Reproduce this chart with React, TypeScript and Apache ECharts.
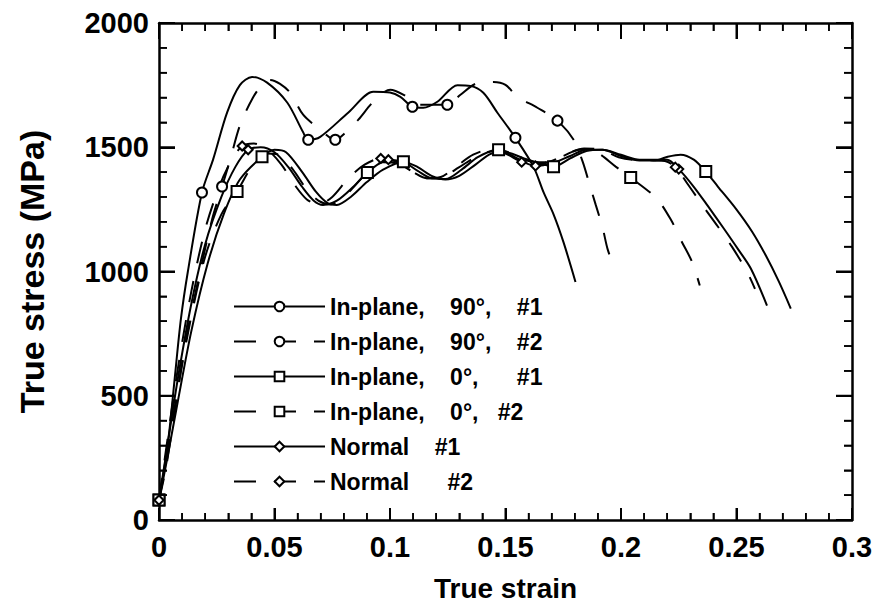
import { useEffect, useRef } from 'react';
import * as echarts from 'echarts';

// Axis tick values (major / minor)
const xMajorTicks = [0, 0.05, 0.1, 0.15, 0.2, 0.25, 0.3];
const xMinorTicks = [0.01, 0.02, 0.03, 0.04, 0.06, 0.07, 0.08, 0.09, 0.11, 0.12, 0.13, 0.14, 0.16, 0.17, 0.18, 0.19, 0.21, 0.22, 0.23, 0.24, 0.26, 0.27, 0.28, 0.29];
const yMajorTicks = [0, 500, 1000, 1500, 2000];
const yMinorTicks = [100, 200, 300, 400, 600, 700, 800, 900, 1100, 1200, 1300, 1400, 1600, 1700, 1800, 1900];

// In-plane 90°, #1 (solid, circles)
const strainA = [0, 0.002, 0.0045, 0.0068, 0.0095, 0.0125, 0.0186, 0.0234, 0.0295, 0.035, 0.0403, 0.0468, 0.0555, 0.0624, 0.0646, 0.0698, 0.082, 0.0928, 0.1, 0.1045, 0.1097, 0.1144, 0.1205, 0.1292, 0.1348, 0.1404, 0.1465, 0.1543, 0.1621, 0.1665, 0.1708, 0.1751, 0.1803];
const stressA = [80, 190, 360, 570, 810, 1000, 1318, 1450, 1640, 1750, 1783, 1760, 1680, 1560, 1530, 1542, 1640, 1723, 1720, 1703, 1663, 1659, 1683, 1750, 1747, 1719, 1639, 1538, 1422, 1318, 1230, 1118, 958];
const marksA = [0, 0.0186, 0.0646, 0.1097, 0.1543];

// In-plane 90°, #2 (dashed, circles)
const strainB = [0, 0.003, 0.007, 0.0117, 0.0178, 0.023, 0.0273, 0.0308, 0.0351, 0.0407, 0.0446, 0.0481, 0.0524, 0.0568, 0.0624, 0.0698, 0.0763, 0.0806, 0.0863, 0.0928, 0.1001, 0.1075, 0.1131, 0.1248, 0.1305, 0.137, 0.1448, 0.15, 0.1552, 0.1638, 0.1725, 0.1795, 0.1834, 0.1864, 0.189, 0.192, 0.1942, 0.1972];
const stressB = [80, 208, 449, 729, 1000, 1210, 1342, 1450, 1590, 1700, 1751, 1771, 1755, 1719, 1631, 1571, 1530, 1558, 1611, 1683, 1731, 1703, 1671, 1671, 1711, 1755, 1763, 1751, 1703, 1659, 1607, 1530, 1442, 1350, 1270, 1178, 1090, 1014];
const marksB = [0, 0.0273, 0.0763, 0.1248, 0.1725];

// In-plane 0°, #1 (solid, squares)
const strainC = [0, 0.003, 0.008, 0.014, 0.021, 0.028, 0.035, 0.0446, 0.05, 0.055, 0.062, 0.068, 0.073, 0.077, 0.083, 0.09, 0.097, 0.1058, 0.112, 0.118, 0.124, 0.13, 0.137, 0.144, 0.15, 0.158, 0.165, 0.1708, 0.178, 0.185, 0.192, 0.2, 0.208, 0.216, 0.2202, 0.2258, 0.2315, 0.2367, 0.242, 0.2497, 0.2567, 0.2627, 0.2683, 0.2735];
const stressC = [80, 220, 470, 760, 1030, 1230, 1370, 1462, 1490, 1480, 1400, 1320, 1275, 1268, 1300, 1360, 1410, 1442, 1420, 1385, 1370, 1385, 1430, 1475, 1480, 1455, 1435, 1422, 1455, 1485, 1490, 1470, 1450, 1450, 1462, 1470, 1450, 1402, 1341, 1253, 1161, 1064, 960, 851];
const marksC = [0, 0.0446, 0.1058, 0.1708, 0.2367];

// In-plane 0°, #2 (dashed, squares)
const strainD = [0, 0.003, 0.008, 0.014, 0.02, 0.027, 0.0338, 0.04, 0.046, 0.052, 0.058, 0.064, 0.069, 0.074, 0.08, 0.0902, 0.097, 0.103, 0.11, 0.116, 0.122, 0.13, 0.138, 0.147, 0.154, 0.16, 0.167, 0.175, 0.182, 0.189, 0.1977, 0.2042, 0.2155, 0.2218, 0.2263, 0.2307, 0.2341];
const stressD = [80, 240, 520, 820, 1060, 1230, 1322, 1420, 1475, 1470, 1410, 1330, 1285, 1270, 1300, 1398, 1440, 1435, 1400, 1375, 1378, 1420, 1465, 1490, 1470, 1445, 1440, 1465, 1490, 1482, 1422, 1378, 1293, 1205, 1120, 1040, 944];
const marksD = [0, 0.0338, 0.0902, 0.147, 0.2042];

// Normal #1 (solid, diamonds)
const strainE = [0, 0.003, 0.008, 0.014, 0.02, 0.027, 0.033, 0.0386, 0.044, 0.05, 0.056, 0.062, 0.067, 0.071, 0.077, 0.084, 0.091, 0.0993, 0.106, 0.112, 0.118, 0.124, 0.131, 0.138, 0.145, 0.152, 0.158, 0.163, 0.17, 0.178, 0.185, 0.192, 0.2, 0.208, 0.215, 0.22, 0.225, 0.2315, 0.2375, 0.2445, 0.2505, 0.2562, 0.2632];
const stressE = [80, 260, 560, 870, 1110, 1300, 1420, 1490, 1500, 1480, 1420, 1340, 1285, 1268, 1285, 1340, 1405, 1450, 1440, 1405, 1375, 1372, 1410, 1460, 1485, 1470, 1440, 1425, 1435, 1465, 1490, 1490, 1465, 1447, 1447, 1450, 1412, 1341, 1265, 1173, 1092, 1012, 863];
const marksE = [0, 0.0386, 0.0993, 0.163, 0.225];

// Normal #2 (dashed, diamonds)
const strainF = [0, 0.003, 0.008, 0.014, 0.02, 0.026, 0.031, 0.036, 0.041, 0.047, 0.053, 0.059, 0.064, 0.069, 0.075, 0.082, 0.089, 0.096, 0.103, 0.11, 0.116, 0.122, 0.129, 0.136, 0.143, 0.15, 0.157, 0.163, 0.17, 0.177, 0.184, 0.191, 0.199, 0.207, 0.214, 0.219, 0.2235, 0.229, 0.235, 0.242, 0.248, 0.2545, 0.258];
const stressF = [80, 280, 600, 920, 1170, 1340, 1440, 1505, 1515, 1490, 1430, 1345, 1290, 1270, 1300, 1375, 1430, 1455, 1440, 1400, 1375, 1380, 1425, 1470, 1490, 1475, 1440, 1428, 1445, 1475, 1495, 1492, 1460, 1448, 1447, 1445, 1420, 1350, 1270, 1180, 1100, 1000, 930];
const marksF = [0, 0.036, 0.096, 0.157, 0.2235];

const names = [
  'In-plane,\u00a0\u00a0\u00a0 90°,\u00a0\u00a0\u00a0 #1',
  'In-plane,\u00a0\u00a0\u00a0 90°,\u00a0\u00a0\u00a0 #2',
  'In-plane,\u00a0\u00a0\u00a0 0°,\u00a0\u00a0\u00a0\u00a0\u00a0 #1',
  'In-plane,\u00a0\u00a0\u00a0 0°,\u00a0\u00a0 #2',
  'Normal\u00a0\u00a0\u00a0 #1',
  'Normal\u00a0\u00a0\u00a0\u00a0\u00a0 #2',
];

const FONT = 'Liberation Sans, Arial, Helvetica, sans-serif';
const X_MIN = 0;
const X_MAX = 0.3;
const Y_MIN = 0;
const Y_MAX = 2000;

function build(strain: number[], stress: number[], marks: number[]) {
  return strain.map((x, i) =>
    marks.includes(x) ? { value: [x, stress[i]] } : { value: [x, stress[i]], symbol: 'none' }
  );
}

function lineSeries(name: string, strain: number[], stress: number[], marks: number[], symbol: string, size: number, dashed: boolean) {
  return {
    type: 'line',
    name,
    data: build(strain, stress, marks),
    symbol,
    symbolSize: size,
    smooth: 0.3,
    lineStyle: { color: '#000', width: 2, type: dashed ? [22, 18] : 'solid' },
    itemStyle: { color: '#000', borderColor: '#000', borderWidth: 1.5 },
  };
}

function axisLine() {
  return { show: true, onZero: false, lineStyle: { color: '#000', width: 2.5 } };
}

function axisTicks(major: number, minor: number) {
  return {
    axisTick: { show: true, inside: true, length: major, lineStyle: { color: '#000', width: 2 } },
    minorTick: { show: true, splitNumber: 5, length: minor, lineStyle: { color: '#000', width: 1.5 } },
  };
}

// Tick marks on all four sides, positioned through the chart's own scale (convertToPixel)
function tickGraphics(chart: any) {
  const els: any[] = [];
  const px = (x: number, y: number) => chart.convertToPixel({ gridIndex: 0 }, [x, y]);
  const add = (x: number, y: number, w: number, h: number) =>
    els.push({ type: 'rect', silent: true, z: 100, shape: { x, y, width: w, height: h }, style: { fill: '#000' } });
  const xTick = (v: number, major: boolean) => {
    const w = major ? 2 : 1.6;
    const [x, yb] = px(v, Y_MIN);
    const yt = px(v, Y_MAX)[1];
    const lb = major ? 12 : 7;
    const lt = major ? 16 : 8;
    add(x - w / 2, yb - lb, w, lb);
    add(x - w / 2, yt, w, lt);
  };
  const yTick = (v: number, major: boolean) => {
    const w = major ? 2 : 1.6;
    const [xl, y] = px(X_MIN, v);
    const xr = px(X_MAX, v)[0];
    const l = major ? 16 : 8;
    add(xl, y - w / 2, l, w);
    add(xr - l, y - w / 2, l, w);
  };
  xMajorTicks.forEach((v) => xTick(v, true));
  xMinorTicks.forEach((v) => xTick(v, false));
  yMajorTicks.forEach((v) => yTick(v, true));
  yMinorTicks.forEach((v) => yTick(v, false));
  return els;
}

export default function App() {
  const ref = useRef<HTMLDivElement>(null);
  useEffect(() => {
    document.body.style.margin = '0';
    const chart = echarts.init(ref.current!, undefined, { renderer: 'svg' });
    chart.setOption({
      animation: false,
      grid: { left: 159, right: 30, top: 23, bottom: 85 },
      legend: {
        orient: 'vertical',
        left: 228,
        top: 290,
        itemGap: 12,
        itemWidth: 91,
        itemHeight: 12,
        textStyle: { fontFamily: FONT, fontWeight: 'bold', fontSize: 23, color: '#000' },
        data: names,
      },
      xAxis: [
        {
          type: 'value',
          position: 'bottom',
          min: X_MIN,
          max: X_MAX,
          interval: 0.05,
          axisLine: axisLine(),
          ...axisTicks(12, 7),
          splitLine: { show: false },
          axisLabel: {
            margin: 12,
            color: '#000',
            fontFamily: FONT,
            fontWeight: 'bold',
            fontSize: 29,
            formatter: (v: number) => String(+Number(v).toFixed(2)),
          },
          name: 'True strain',
          nameLocation: 'middle',
          nameGap: 54,
          nameTextStyle: { color: '#000', fontFamily: FONT, fontWeight: 'bold', fontSize: 28 },
        },
        {
          type: 'value',
          position: 'top',
          min: X_MIN,
          max: X_MAX,
          interval: 0.05,
          axisLine: axisLine(),
          ...axisTicks(16, 8),
          splitLine: { show: false },
          axisLabel: { show: false },
        },
      ],
      yAxis: [
        {
          type: 'value',
          position: 'left',
          min: Y_MIN,
          max: Y_MAX,
          interval: 500,
          axisLine: axisLine(),
          ...axisTicks(16, 8),
          splitLine: { show: false },
          axisLabel: {
            margin: 10,
            color: '#000',
            fontFamily: FONT,
            fontWeight: 'bold',
            fontSize: 29,
            formatter: (v: number) => String(v),
          },
          name: 'True stress (MPa)',
          nameLocation: 'middle',
          nameGap: 110,
          nameTextStyle: { color: '#000', fontFamily: FONT, fontWeight: 'bold', fontSize: 34 },
        },
        {
          type: 'value',
          position: 'right',
          min: Y_MIN,
          max: Y_MAX,
          interval: 500,
          axisLine: axisLine(),
          ...axisTicks(16, 8),
          splitLine: { show: false },
          axisLabel: { show: false },
        },
      ],
      series: [
        lineSeries(names[0], strainA, stressA, marksA, 'emptyCircle', 10, false),
        lineSeries(names[1], strainB, stressB, marksB, 'emptyCircle', 10, true),
        lineSeries(names[2], strainC, stressC, marksC, 'emptyRect', 11, false),
        lineSeries(names[3], strainD, stressD, marksD, 'emptyRect', 11, true),
        lineSeries(names[4], strainE, stressE, marksE, 'emptyDiamond', 9, false),
        lineSeries(names[5], strainF, stressF, marksF, 'emptyDiamond', 9, true),
      ],
    });
    chart.setOption({ graphic: { elements: tickGraphics(chart) } });
    return () => chart.dispose();
  }, []);
  return <div ref={ref} style={{ width: 882, height: 607 }} />;
}
